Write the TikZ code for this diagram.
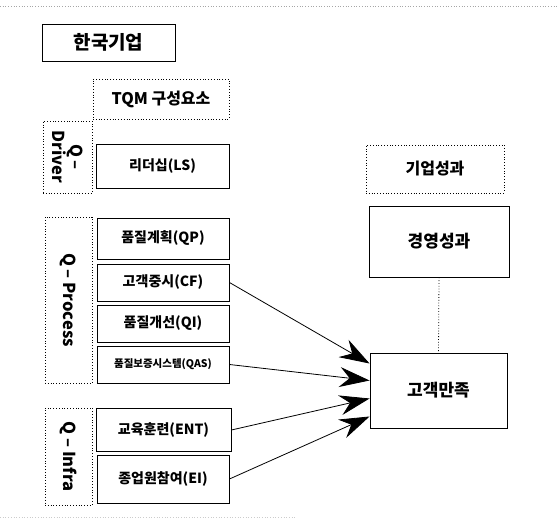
\documentclass[tikz,border=0pt]{standalone}
\usepackage{fontspec}
\setmainfont{Noto Sans CJK KR}
\usetikzlibrary{arrows.meta}
\begin{document}
\begin{tikzpicture}[x=1pt,y=-1pt,
  solidbox/.style={draw,line width=0.9pt,inner sep=0pt},
  dotbox/.style={draw,dotted,line width=0.8pt,inner sep=0pt},
  lbl/.style={font=\bfseries\fontsize{14}{14}\selectfont},
  hdr/.style={font=\bfseries\fontsize{16}{16}\selectfont},
  vlbl/.style={font=\bfseries\fontsize{16.5}{15}\selectfont},
  arr/.style={line width=0.8pt,-{Stealth[length=30pt,width=20pt,inset=10pt]}}]
\useasboundingbox (0,0) rectangle (557,518);
% frame traces
\draw[gray!70,dotted,line width=0.7pt] (0,6) -- (557,6);
\draw[gray!40,dotted,line width=0.7pt] (0,517) -- (295,517);
% boxes
\node[solidbox,minimum width=133pt,minimum height=37pt,font=\bfseries\fontsize{19}{19}\selectfont] (kr) at (108.5,42.5) {한국기업};
\node[dotbox,minimum width=136pt,minimum height=40pt,hdr] (tqm) at (161,99) {TQM 구성요소};
\node[dotbox,minimum width=49pt,minimum height=72pt] (qd) at (67.5,157) {};
\node[rotate=-90,align=center,vlbl] at (qd.center) {Q –\\Driver};
\node[solidbox,minimum width=133pt,minimum height=44pt,lbl] (ls) at (162.5,166) {리더십(LS)};
\node[dotbox,minimum width=47pt,minimum height=166pt] (qp) at (68.5,300) {};
\node[rotate=-90,vlbl] at (qp.center) {Q – Process};
\node[solidbox,minimum width=132pt,minimum height=41pt,lbl] (QP) at (163,238.5) {품질계획(QP)};
\node[solidbox,minimum width=132pt,minimum height=37pt,lbl] (CF) at (163,282.5) {고객중시(CF)};
\node[solidbox,minimum width=132pt,minimum height=37pt,lbl] (QI) at (163,323.5) {품질개선(QI)};
\node[solidbox,minimum width=132pt,minimum height=37pt,font=\bfseries\fontsize{10.5}{10}\selectfont] (QAS) at (163,364.5) {품질보증시스템(QAS)};
\node[dotbox,minimum width=47pt,minimum height=97pt] (qi) at (68.5,456.5) {};
\node[rotate=-90,vlbl] at (qi.center) {Q – Infra};
\node[solidbox,minimum width=135pt,minimum height=43pt,lbl] (ENT) at (163.5,430) {교육훈련(ENT)};
\node[solidbox,minimum width=132pt,minimum height=48pt,lbl] (EI) at (163,479) {종업원참여(EI)};
\node[dotbox,minimum width=138pt,minimum height=48pt,hdr] (perf) at (435,169) {기업성과};
\node[solidbox,minimum width=140pt,minimum height=71pt,font=\bfseries\fontsize{17}{17}\selectfont] (mgmt) at (439,241.5) {경영성과};
\node[solidbox,minimum width=137pt,minimum height=75pt,font=\bfseries\fontsize{17}{17}\selectfont] (cs) at (438.5,390.5) {고객만족};
% connectors
\draw[dotted,line width=0.8pt] (mgmt.south) -- (cs.north);
\draw[arr] (CF.east) -- ([yshift=27pt]cs.west);
\draw[arr] (QAS.east) -- ([yshift=10pt]cs.west);
\draw[arr] (ENT.east) -- ([yshift=-8pt]cs.west);
\draw[arr] (EI.east) -- ([yshift=-26pt]cs.west);
\end{tikzpicture}
\end{document}
